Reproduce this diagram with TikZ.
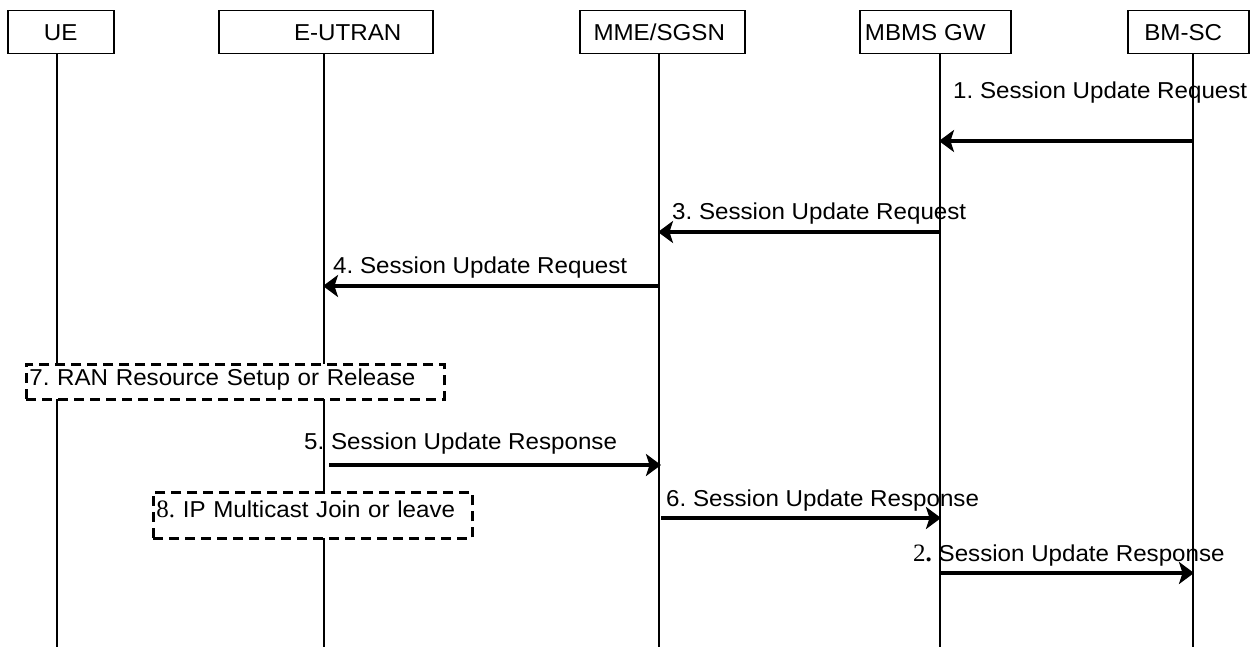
\documentclass[tikz,border=0pt]{standalone}
\usepackage{fontspec}
\setmainfont{Liberation Sans}[FakeStretch=1.05]
\newfontfamily\serifd{Liberation Serif}
\usetikzlibrary{arrows.meta}
\begin{document}
\frenchspacing
\begin{tikzpicture}[x=1pt,y=-1pt,
  every node/.style={font=\fontsize{23}{27}\selectfont},
  hdr/.style={draw, line width=1.5pt, anchor=north west, minimum height=43pt, inner sep=0pt},
  life/.style={line width=1.5pt},
  msg/.style={line width=4.5pt, -{Stealth[length=15pt,width=22pt,inset=3.5pt]}, shorten >=-1pt},
  lbl/.style={anchor=base west, inner sep=0pt},
  dbox/.style={draw, dash pattern=on 10pt off 6pt, line width=2.8pt, fill=white, anchor=north west, align=left, inner xsep=3pt, inner ysep=0pt, text height=16pt}
]
\useasboundingbox (0,0) rectangle (1256,647);
% header boxes
\node[hdr, minimum width=106pt] (ue) at (7,10) {UE};
\node[hdr, minimum width=214pt] (eutran) at (218,10) {\hspace*{44pt}E-UTRAN};
\node[hdr, minimum width=165pt] (mme) at (579,10) {MME/SGSN\hspace*{6pt}};
\node[hdr, minimum width=151pt] (mbms) at (859,10) {MBMS GW\hspace*{20pt}};
\node[hdr, minimum width=121pt] (bmsc) at (1127,10) {BM-SC\hspace*{10pt}};
% lifeline endpoints
\coordinate (ueB) at (57,647);
\coordinate (euB) at (324,647);
\coordinate (mmeB) at (659,647);
\coordinate (mbB) at (940,647);
\coordinate (bmB) at (1193,647);
\draw[life] (ueB |- ue.south) -- (ueB);
\draw[life] (euB |- eutran.south) -- (euB);
\draw[life] (mmeB |- mme.south) -- (mmeB);
\draw[life] (mbB |- mbms.south) -- (mbB);
\draw[life] (bmB |- bmsc.south) -- (bmB);
% message points
\coordinate (m1a) at (1193,141); \coordinate (m1b) at (940,141);
\coordinate (m3a) at (940,232);  \coordinate (m3b) at (659,232);
\coordinate (m4a) at (659,286);  \coordinate (m4b) at (324,286);
\coordinate (m5a) at (329,465);  \coordinate (m5b) at (660,465);
\coordinate (m6a) at (661,518);  \coordinate (m6b) at (940,518);
\coordinate (m2a) at (940,573);  \coordinate (m2b) at (1193,573);
\draw[msg] (m1a) -- (m1b);
\draw[msg] (m3a) -- (m3b);
\draw[msg] (m4a) -- (m4b);
\draw[msg] (m5a) -- (m5b);
\draw[msg] (m6a) -- (m6b);
\draw[msg] (m2a) -- (m2b);
% labels
\node[lbl] (l1) at (953,99) {1. Session Update Request};
\node[lbl] (l3) at (672,220) {3. Session Update Request};
\node[lbl] (l4) at (333,273) {4. Session Update Request};
\node[lbl] (l5) at (304,449) {5. Session Update Response};
\node[lbl] (l6) at (666,506) {6. Session Update Response};
\node[lbl] (l2) at (913,561) {{\serifd\fontsize{25}{27}\selectfont 2\textbf{.}} Session Update Response};
% dashed boxes
\node[dbox, text width=412pt, minimum height=35pt, text depth=8pt] (b7) at (25,363) {7. RAN Resource Setup or Release};
\node[dbox, text width=313pt, minimum height=46pt, text depth=11pt] (b8) at (152,491) {{\serifd\fontsize{25}{27}\selectfont 8.} IP Multicast Join or leave};
\end{tikzpicture}
\end{document}
